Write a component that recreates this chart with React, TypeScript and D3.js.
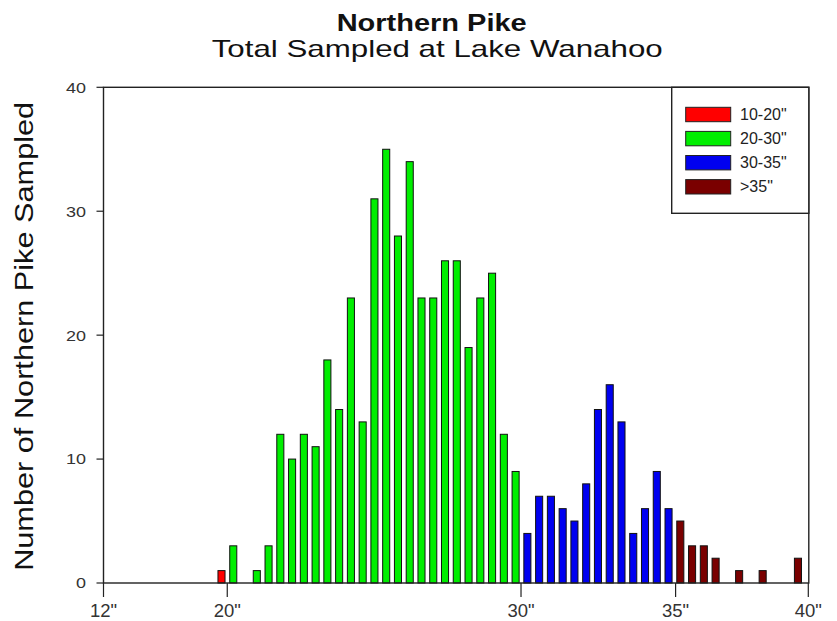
import React from "react";
import * as d3 from "d3";

// ---- data ----
const counts = [
  1, 3, 0, 1, 3, 12, 10, 12, 11, 18, 14, 23, 13, 31, 35, 28, 34, 23, 23, 26, 26, 19, 23, 25, 12, 9,
  4, 7, 7, 6, 5, 8, 14, 16, 13, 4, 6, 9, 6,
  5, 3, 3, 2, 0, 1, 0, 1, 0, 0, 2,
];
const classLabels = ['10-20"', '20-30"', '30-35"', '>35"'];
const classStartBin = [0, 1, 26, 39];
const classColors = ["#ff0000", "#00ee00", "#0000f0", "#7a0000"];
const xTickPos = [-10.03, 0.49, 25.46, 38.6, 49.88];
const xTickLabels = ['12"', '20"', '30"', '35"', '40"'];
const yTicks = [0, 10, 20, 30, 40];

const W = 837;
const H = 621;
const FONT = "'Liberation Sans', Arial, Helvetica, sans-serif";

export default function App() {
  const left = 103.5, right = 808.8, top = 87.3, bottom = 583;
  const x = d3.scaleLinear().domain([xTickPos[0], xTickPos[xTickPos.length - 1]]).range([left, 808.3]);
  const y = d3.scaleLinear().domain([0, 40]).range([bottom, top]);
  const step = x(1) - x(0);
  const bw = step * 0.6;
  const classOf = (i: number) => {
    let c = 0;
    classStartBin.forEach((s, k) => { if (i >= s) c = k; });
    return c;
  };

  return (
    <div style={{ position: "absolute", left: 0, top: 0 }}>
      <svg width={W} height={H} style={{ display: "block", background: "#fff" }} fontFamily={FONT}>
        {/* titles */}
        <text x={431.7} y={30.5} textAnchor="middle" fontSize={23} fontWeight="bold" fill="#111"
          textLength={190} lengthAdjust="spacingAndGlyphs">Northern Pike</text>
        <text x={437.2} y={56.7} textAnchor="middle" fontSize={24} fill="#111"
          textLength={451} lengthAdjust="spacingAndGlyphs">Total Sampled at Lake Wanahoo</text>

        {/* y label */}
        <text transform={`translate(32.5, ${(101.7 + 571) / 2}) rotate(-90)`} textAnchor="middle" fontSize={26.5}
          fill="#111" textLength={469} lengthAdjust="spacingAndGlyphs">Number of Northern Pike Sampled</text>

        {/* bars */}
        {counts.map((v, i) =>
          v > 0 ? (
            <rect key={i} x={x(i) - bw / 2} y={y(v)} width={bw} height={y(0) - y(v)}
              fill={classColors[classOf(i)]} stroke="#111" strokeWidth={1} />
          ) : null
        )}

        {/* frame */}
        <rect x={left} y={top} width={right - left} height={bottom - top} fill="none" stroke="#222" strokeWidth={1.4} />

        {/* y ticks */}
        {yTicks.map((t) => (
          <g key={t}>
            <line x1={left - 7} x2={left} y1={y(t)} y2={y(t)} stroke="#222" strokeWidth={1.2} />
            <text x={86} y={y(t)} dy="0.36em" textAnchor="end" fontSize={15} fill="#333"
              textLength={10 * String(t).length} lengthAdjust="spacingAndGlyphs">{t}</text>
          </g>
        ))}

        {/* x ticks */}
        {xTickPos.map((p, k) => (
          <g key={k}>
            <line x1={x(p)} x2={x(p)} y1={bottom} y2={bottom + 14} stroke="#222" strokeWidth={1.2} />
            <text x={x(p)} y={616.5} textAnchor="middle" fontSize={18.5} fill="#333">{xTickLabels[k]}</text>
          </g>
        ))}

        {/* legend */}
        <rect x={671.7} y={top} width={right - 671.7} height={213.3 - top} fill="#fff" stroke="#222" strokeWidth={1.4} />
        {classLabels.map((lab, k) => {
          const ry = 107.3 + k * 24.1;
          return (
            <g key={lab}>
              <rect x={685.7} y={ry} width={45} height={14.4} fill={classColors[k]} stroke="#222" strokeWidth={1} />
              <text x={740} y={ry + 12.8} fontSize={16} fill="#222">{lab}</text>
            </g>
          );
        })}
      </svg>
    </div>
  );
}
